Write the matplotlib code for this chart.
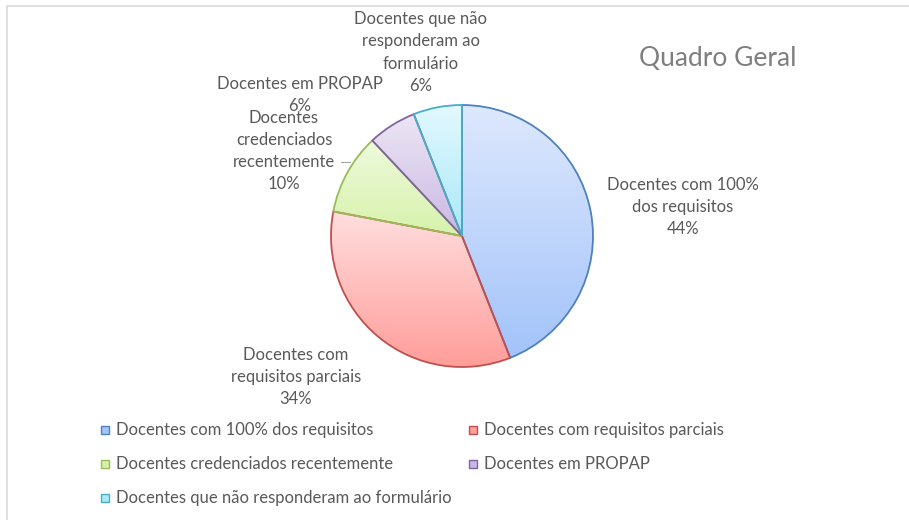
import numpy as np
import matplotlib
matplotlib.use("Agg")
import matplotlib.pyplot as plt
from matplotlib.patches import Rectangle
from matplotlib.colors import LinearSegmentedColormap

plt.rcParams['font.family'] = ['Lato', 'DejaVu Sans']

categories = ["Docentes com 100% dos requisitos",
              "Docentes com requisitos parciais",
              "Docentes credenciados recentemente",
              "Docentes em PROPAP",
              "Docentes que não responderam ao formulário"]
values = [44, 34, 10, 6, 6]
slice_labels = ["Docentes com 100%\ndos requisitos\n44%",
                "Docentes com\nrequisitos parciais\n34%",
                "Docentes\ncredenciados\nrecentemente\n10%",
                "Docentes em PROPAP\n6%",
                "Docentes que não\nresponderam ao\nformulário\n6%"]
title = "Quadro Geral"

edge_colors = ["#4f81bd", "#c0504d", "#9bbb59", "#8064a2", "#4bacc6"]
top_colors = ["#dde8fd", "#ffdede", "#eefadd", "#ede6f5", "#e2f8fe"]
bot_colors = ["#a3c3fa", "#ff9d9a", "#d6f2aa", "#c9b8e2", "#a9e9f8"]
txt_color = "#595959"

W, H = 909, 520
fig = plt.figure(figsize=(W / 100, H / 100), dpi=100)
ax = fig.add_axes([0, 0, 1, 1])

# chart border (top/left visible)
ax.add_patch(Rectangle((7, -10), W + 20, H - 6 + 10, fill=False,
                       edgecolor="#d9d9d9", linewidth=1.2))

cx, cy, R = 462, H - 236, 131
wedges, _ = ax.pie(values, center=(cx, cy), radius=R, startangle=90,
                   counterclock=False, frame=True,
                   wedgeprops=dict(linewidth=1.3, fill=False))

grad = np.linspace(0, 1, 256).reshape(-1, 1)
for w, ec, tc, bc in zip(wedges, edge_colors, top_colors, bot_colors):
    w.set_edgecolor(ec)
    w.set_zorder(3)
    bb = w.get_path().get_extents()
    cmap = LinearSegmentedColormap.from_list("g", [bc, tc])
    im = ax.imshow(grad, cmap=cmap, origin='lower', aspect='auto',
                   extent=(bb.x0, bb.x1, bb.y0, bb.y1), zorder=2,
                   interpolation='bilinear')
    im.set_clip_path(w)

ax.set_xlim(0, W)
ax.set_ylim(0, H)
ax.set_aspect('equal')
ax.axis('off')

fs = 12
label_pos = [(683, H - 207), (296, H - 377), (284, H - 151),
             (300, H - 95), (421, H - 52.5)]
for lab, (x, y) in zip(slice_labels, label_pos):
    ax.text(x, y, lab, ha='center', va='center', fontsize=fs,
            color=txt_color, linespacing=1.47, zorder=5)

# leader line for the 10% slice
ax.plot([341, 350], [H - 162, H - 162], color="#a6a6a6", lw=0.8, zorder=4)

ax.text(718, H - 58, title, ha='center', va='center', fontsize=19,
        color="#7f7f7f")

# legend
for i, (cat, ec, tc, bc) in enumerate(zip(categories, edge_colors, top_colors, bot_colors)):
    row, col = i // 2, i % 2
    x0 = 101 + col * 368
    yc = H - (430 + row * 34)
    ax.add_patch(Rectangle((x0, yc - 4), 8, 8, facecolor=bc, edgecolor=ec,
                           linewidth=1.0, zorder=5))
    ax.text(x0 + 15, yc, cat, ha='left', va='center', fontsize=fs,
            color=txt_color, zorder=5)

fig.savefig("out.png", dpi=100)
